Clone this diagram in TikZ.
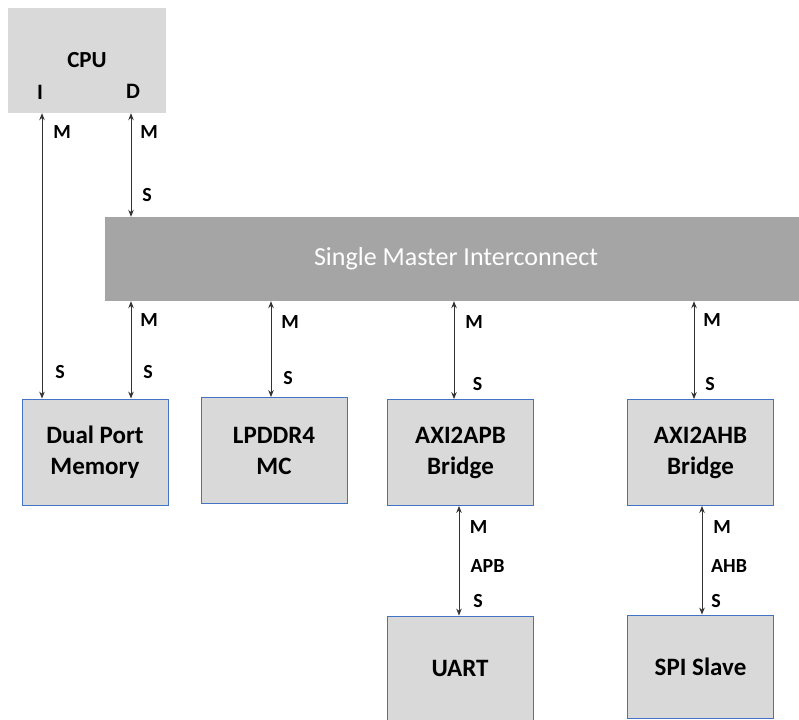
\documentclass[tikz,border=0pt]{standalone}
\usepackage{fontspec}
\setmainfont{Carlito}
\usetikzlibrary{arrows.meta}
\definecolor{boxfill}{HTML}{D9D9D9}
\definecolor{boxline}{HTML}{4472C4}
\definecolor{busfill}{HTML}{A5A5A5}
\definecolor{linkcol}{HTML}{333333}
\begin{document}
\begin{tikzpicture}[x=1pt,y=-1pt,
  block/.style={draw=boxline, line width=0.8pt, fill=boxfill,
    minimum width=146pt, minimum height=106pt, inner sep=0pt,
    align=center, font=\fontsize{25}{31}\selectfont\bfseries},
  port/.style={font=\fontsize{20}{24}\selectfont\bfseries, anchor=base, inner sep=0pt},
  link/.style={draw=linkcol, line width=1pt,
    {Stealth[length=7pt,width=5.5pt]}-{Stealth[length=7pt,width=5.5pt]}}]
\useasboundingbox (0,0) rectangle (799,719);

% CPU and the interconnect
\node[fill=boxfill, minimum width=158pt, minimum height=105pt, inner sep=0pt] (cpu) at (87,60.5) {};
\node[font=\fontsize{23}{27}\selectfont\bfseries, anchor=base, inner sep=0pt] (cpulbl) at (87,68) {CPU};
\node[port, font=\fontsize{22}{26}\selectfont\bfseries] (iport) at (40,100) {I};
\node[port, font=\fontsize{22}{26}\selectfont\bfseries] (dport) at (133,99) {D};

\node[fill=busfill, minimum width=694pt, minimum height=84pt, inner sep=0pt] (ic) at (452,259) {};
\node[text=white, font=\fontsize{26}{30}\selectfont, inner sep=0pt] (iclbl) at (456,259) {Single Master Interconnect};

% Slaves and bridges
\node[block] (dpm) at (95,452) {Dual Port\\Memory};
\node[block] (ddr) at (274,450.5) {LPDDR4\\MC};
\node[block] (apb) at (460.5,452.5) {AXI2APB\\Bridge};
\node[block] (ahb) at (700.5,452.5) {AXI2AHB\\Bridge};
\node[block, minimum height=104pt] (uart) at (460,668) {UART};
\node[block, minimum height=103pt] (spi) at (700.5,666.5) {SPI Slave};

% Port columns
\coordinate (xI) at (42,0);
\coordinate (xD) at (131,0);
\coordinate (xDdr) at (271,0);
\coordinate (xApb) at (454,0);
\coordinate (xAhb) at (694,0);
\coordinate (xUart) at (459,0);
\coordinate (xSpi) at (702,0);

% Links
\draw[link] (xI |- cpu.south) -- (xI |- dpm.north);
\draw[link] (xD |- cpu.south) -- (xD |- ic.north);
\draw[link] (xD |- ic.south) -- (xD |- dpm.north);
\draw[link] (xDdr |- ic.south) -- (xDdr |- ddr.north);
\draw[link] (xApb |- ic.south) -- (xApb |- apb.north);
\draw[link] (xAhb |- ic.south) -- (xAhb |- ahb.north);
\draw[link] (xUart |- apb.south) -- (xUart |- uart.north);
\draw[link] (xSpi |- ahb.south) -- (xSpi |- spi.north);

% Master / slave labels
\node[port] (m1) at (62,139) {M};
\node[port] (m2) at (149,139) {M};
\node[port] (s2) at (147,202) {S};
\node[port] (s1) at (60,378) {S};
\node[port] (m3) at (149,326) {M};
\node[port] (s3) at (148,378) {S};
\node[port] (m4) at (290,328) {M};
\node[port] (s4) at (288,384) {S};
\node[port] (m5) at (474,328) {M};
\node[port] (s5) at (477.5,390) {S};
\node[port] (m6) at (712,326) {M};
\node[port] (s6) at (710,390) {S};
\node[port] (m7) at (478.5,533) {M};
\node[port] (bus7) at (487.5,572) {APB};
\node[port] (s7) at (478,607) {S};
\node[port] (m8) at (722,533) {M};
\node[port] (bus8) at (729,572) {AHB};
\node[port] (s8) at (716,607) {S};
\end{tikzpicture}
\end{document}
